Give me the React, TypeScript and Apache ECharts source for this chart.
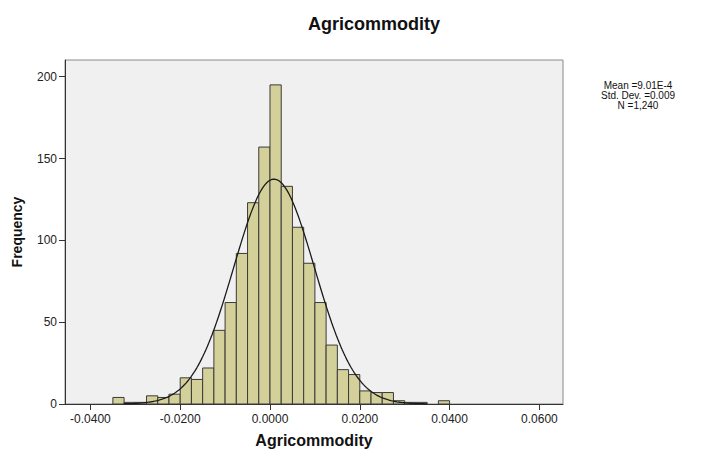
import React, { useEffect, useRef } from "react";
import * as echarts from "echarts";

// Histogram bins (left edges), bin width and frequencies
const BIN_WIDTH = 0.0025;
const BIN_STARTS = [
  -0.035, -0.0325, -0.03, -0.0275, -0.025, -0.0225, -0.02, -0.0175, -0.015, -0.0125,
  -0.01, -0.0075, -0.005, -0.0025, 0.0, 0.0025, 0.005, 0.0075, 0.01, 0.0125,
  0.015, 0.0175, 0.02, 0.0225, 0.025, 0.0275, 0.03, 0.0325, 0.035, 0.0375,
];
const COUNTS = [
  4, 1, 1, 5, 4, 6, 16, 15, 22, 45,
  62, 92, 123, 157, 195, 133, 108, 86, 62, 36,
  21, 18, 8, 7, 7, 2, 1, 1, 0, 2,
];

// Summary statistics shown beside the chart (the fitted normal curve uses them)
const MEAN = 0.000901;
const STD_DEV = 0.009;
const N = 1240;
const STAT_LINES = ["Mean =9.01E-4", "Std. Dev. =0.009", "N =1,240"];

const X_TICKS = [-0.04, -0.02, 0.0, 0.02, 0.04, 0.06];
const Y_TICKS = [0, 50, 100, 150, 200];
const CURVE_RANGE = [-0.0325, 0.035];

const FONT = "'Liberation Sans', Arial, sans-serif";

export default function App() {
  const ref = useRef<HTMLDivElement>(null);

  useEffect(() => {
    document.body.style.margin = "0";
    if (!ref.current) return;
    const chart = echarts.init(ref.current, undefined, { renderer: "svg" });

    const bars = BIN_STARTS.map((s, i) => [s, s + BIN_WIDTH, COUNTS[i]]);

    // fitted normal curve: N * binWidth * pdf(x)
    const curve: number[][] = [];
    const steps = 200;
    for (let k = 0; k <= steps; k++) {
      const x = CURVE_RANGE[0] + ((CURVE_RANGE[1] - CURVE_RANGE[0]) * k) / steps;
      const z = (x - MEAN) / STD_DEV;
      const y = (N * BIN_WIDTH) / (STD_DEV * Math.sqrt(2 * Math.PI)) * Math.exp(-0.5 * z * z);
      curve.push([x, y]);
    }

    chart.setOption({
      animation: false,
      backgroundColor: "#ffffff",
      title: {
        text: "Agricommodity",
        left: 369,
        textAlign: "center",
        top: 10,
        textStyle: { fontFamily: FONT, fontWeight: "bold", fontSize: 18, color: "#111" },
      },
      grid: {
        left: 65,
        top: 60,
        width: 498,
        height: 344,
        outerBoundsMode: "none",
        containLabel: false,
        show: true,
        backgroundColor: "#f0f0f0",
        borderColor: "#8a8a8a",
        borderWidth: 1,
      },
      xAxis: {
        type: "value",
        min: -0.04566,
        max: 0.06526,
        name: "Agricommodity",
        nameLocation: "middle",
        nameGap: 28,
        nameTextStyle: { fontFamily: FONT, fontWeight: "bold", fontSize: 16, color: "#111" },
        splitLine: { show: false },
        axisLine: { show: true, onZero: false, lineStyle: { color: "#333", width: 1 } },
        axisTick: { show: true, length: 6, customValues: X_TICKS, lineStyle: { color: "#333" } },
        axisLabel: {
          customValues: X_TICKS,
          margin: 9,
          fontFamily: FONT,
          fontSize: 12,
          color: "#222",
          formatter: (v: number) => v.toFixed(4),
        },
      },
      yAxis: {
        type: "value",
        min: 0,
        max: 210.2,
        name: "Frequency",
        nameLocation: "middle",
        nameGap: 41,
        nameRotate: 90,
        nameTextStyle: { fontFamily: FONT, fontWeight: "bold", fontSize: 14, color: "#111" },
        splitLine: { show: false },
        axisLine: { show: true, onZero: false, lineStyle: { color: "#333", width: 1 } },
        axisTick: { show: true, length: 6, customValues: Y_TICKS, lineStyle: { color: "#333" } },
        axisLabel: {
          customValues: Y_TICKS,
          margin: 8,
          fontFamily: FONT,
          fontSize: 12,
          color: "#222",
        },
      },
      graphic: [
        {
          type: "text",
          x: 638,
          y: 80,
          style: {
            text: STAT_LINES.join("\n"),
            fontFamily: FONT,
            fontSize: 10,
            lineHeight: 10,
            fill: "#111",
            align: "center",
            verticalAlign: "top",
          },
        },
      ],
      series: [
        {
          type: "custom",
          renderItem: (params: any, api: any) => {
            const s = api.value(0);
            const e = api.value(1);
            const c = api.value(2);
            if (!c) return null;
            const p0 = api.coord([s, c]);
            const p1 = api.coord([e, 0]);
            return {
              type: "rect",
              shape: { x: p0[0], y: p0[1], width: p1[0] - p0[0], height: p1[1] - p0[1] },
              style: { fill: "#d4d09a", stroke: "#3a3a3a", lineWidth: 1 },
            };
          },
          encode: { x: [0, 1], y: 2 },
          data: bars,
          z: 2,
        },
        {
          type: "line",
          data: curve,
          showSymbol: false,
          symbol: "none",
          lineStyle: { color: "#1a1a1a", width: 1.3 },
          z: 3,
        },
      ],
    });

    return () => chart.dispose();
  }, []);

  return <div ref={ref} style={{ width: 704, height: 450 }} />;
}
